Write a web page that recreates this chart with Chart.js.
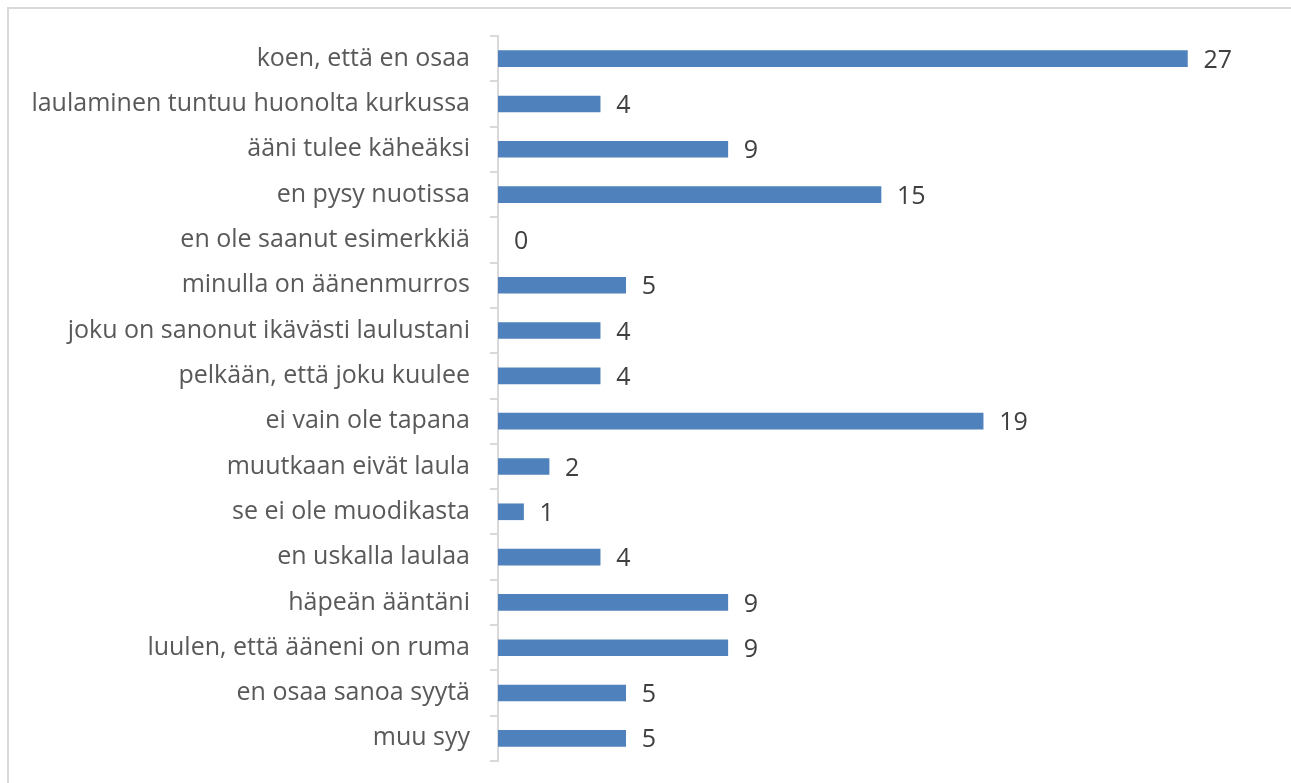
<!DOCTYPE html>
<html>
<head>
<meta charset="utf-8">
<script src="https://cdn.jsdelivr.net/npm/chart.js@4"></script>
<style>
  html, body { margin: 0; padding: 0; background: #fff; }
  #wrap { width: 1291px; height: 783px; }
</style>
</head>
<body>
<div id="wrap"><canvas id="chart" width="1291" height="783"></canvas></div>
<script>
// syyt, miksi ei laula
const categories = [
    'koen, että en osaa',
    'laulaminen tuntuu huonolta kurkussa',
    'ääni tulee käheäksi',
    'en pysy nuotissa',
    'en ole saanut esimerkkiä',
    'minulla on äänenmurros',
    'joku on sanonut ikävästi laulustani',
    'pelkään, että joku kuulee',
    'ei vain ole tapana',
    'muutkaan eivät laula',
    'se ei ole muodikasta',
    'en uskalla laulaa',
    'häpeän ääntäni',
    'luulen, että ääneni on ruma',
    'en osaa sanoa syytä',
    'muu syy'
];
const counts = [27, 4, 9, 15, 0, 5, 4, 4, 19, 2, 1, 4, 9, 9, 5, 5];

const FONT = '"Open Sans", "Noto Sans", sans-serif';

// kehys koko kuvan ympärille
const frame = {
    id: 'frame',
    beforeDraw(chart) {
        const ctx = chart.ctx;
        ctx.save();
        ctx.strokeStyle = '#D9D9D9';
        ctx.lineWidth = 2;
        ctx.strokeRect(8, 8, 1290, 800);
        ctx.restore();
    }
};

// arvot palkkien perään
const valueLabels = {
    id: 'valueLabels',
    afterDatasetsDraw(chart) {
        const ctx = chart.ctx;
        const meta = chart.getDatasetMeta(0);
        ctx.save();
        ctx.fillStyle = '#404040';
        ctx.font = '25px ' + FONT;
        ctx.textAlign = 'left';
        ctx.textBaseline = 'middle';
        meta.data.forEach((bar, i) => {
            ctx.fillText(String(counts[i]), bar.x + 16, bar.y + 2);
        });
        ctx.restore();
    }
};

new Chart(document.getElementById('chart').getContext('2d'), {
    type: 'bar',
    data: {
        labels: categories,
        datasets: [{
            data: counts,
            backgroundColor: counts.map(v => v > 0 ? '#4F81BD' : 'rgba(0,0,0,0)'),
            barThickness: 16,
            borderWidth: 0
        }]
    },
    options: {
        indexAxis: 'y',
        responsive: false,
        animation: false,
        layout: { padding: { left: 0, right: 27, top: 36, bottom: 22 } },
        plugins: {
            legend: { display: false },
            tooltip: { enabled: false }
        },
        scales: {
            x: {
                display: false,
                min: 0,
                max: 30
            },
            y: {
                afterFit(scale) {
                    scale.width = 498;
                    scale.paddingTop = 0;
                    scale.paddingBottom = 0;
                },
                grid: {
                    drawOnChartArea: false,
                    drawTicks: true,
                    tickLength: 8,
                    color: '#D9D9D9',
                    lineWidth: 2
                },
                border: { color: '#D9D9D9', width: 2 },
                ticks: {
                    color: '#595959',
                    padding: 20,
                    autoSkip: false,
                    font: { family: FONT, size: 25 }
                }
            }
        }
    },
    plugins: [frame, valueLabels]
});
</script>
</body>
</html>
